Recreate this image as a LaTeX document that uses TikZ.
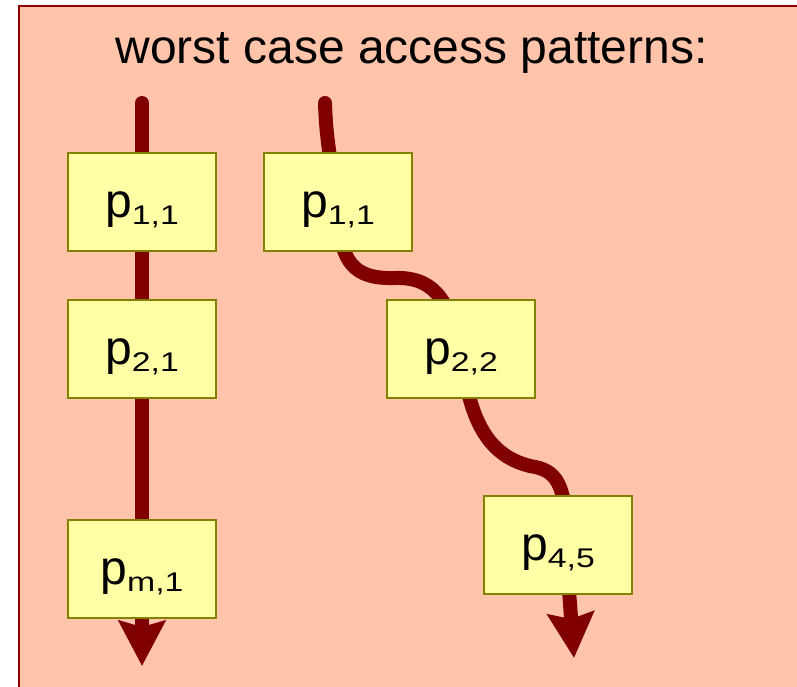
\documentclass[tikz,border=0pt]{standalone}
\usepackage{fontspec}
\setmainfont{Liberation Sans}
\newfontfamily\subfont[FakeStretch=1.25]{Liberation Sans}
\usetikzlibrary{arrows.meta}
\definecolor{salmon}{RGB}{255,196,170}
\definecolor{framered}{RGB}{140,0,0}
\definecolor{boxfill}{RGB}{255,255,165}
\definecolor{boxline}{RGB}{130,130,0}
\definecolor{arrowred}{RGB}{128,0,0}
\pgfdeclarelayer{bg}
\pgfdeclarelayer{arr}
\pgfsetlayers{bg,arr,main}
\tikzset{
  pbox/.style={draw=boxline, fill=boxfill, line width=2pt, minimum width=148pt,
    minimum height=98pt, inner sep=0pt, text height=40pt, text depth=10pt,
    font=\fontsize{48}{48}\selectfont},
  flow/.style={draw=arrowred, line width=14pt, line cap=round, line join=round,
    -{Stealth[length=45pt,width=46pt,inset=6pt]}},
  titletext/.style={font=\fontsize{48}{58}\selectfont, anchor=base, inner sep=0pt},
  frame/.style={fill=salmon, draw=framered, line width=2pt}
}
\newcommand{\plab}[1]{p\raisebox{-7pt}{\subfont\fontsize{27}{27}\selectfont #1}}
\begin{document}
\begin{tikzpicture}[x=1pt,y=-1pt]
\useasboundingbox (0,0) rectangle (797,687);
\clip (0,0) rectangle (797,687);
\begin{pgfonlayer}{bg}
  \fill[white] (0,0) rectangle (797,687);
  \draw[frame] (19,6) rectangle (830,720);
\end{pgfonlayer}
\node[titletext] (title) at (411.5,64) {worst case access patterns:};
% left column
\node[pbox] (a1) at (142,202) {\plab{1,1}};
\node[pbox] (a2) at (142,349) {\plab{2,1}};
\node[pbox] (am) at (142,569) {\plab{m,1}};
% right diagonal
\node[pbox] (b11) at (338,202) {\plab{1,1}};
\node[pbox] (b22) at (461,349) {\plab{2,2}};
\node[pbox] (b45) at (558,545) {\plab{4,5}};
% connector points
\coordinate (ls) at (142,103);
\coordinate (le) at (142,666);
\coordinate (rs) at (325,103);
\coordinate (w1) at (395,278);
\coordinate (w2) at (530,466);
\coordinate (w3) at (566,550);
\coordinate (re) at (574,658);
\begin{pgfonlayer}{arr}
  \draw[flow] (ls) -- (a1.center) -- (a2.center) -- (am.center) -- (le);
  \draw[flow] (rs) .. controls (326,140) and (332,170) .. (b11.center)
    .. controls (338,265) and (355,279) .. (w1)
    .. controls (430,277) and (448,295) .. (b22.center)
    .. controls (468,415) and (485,455) .. (w2)
    .. controls (555,470) and (568,480) .. (w3) -- (re);
\end{pgfonlayer}
\end{tikzpicture}
\end{document}
